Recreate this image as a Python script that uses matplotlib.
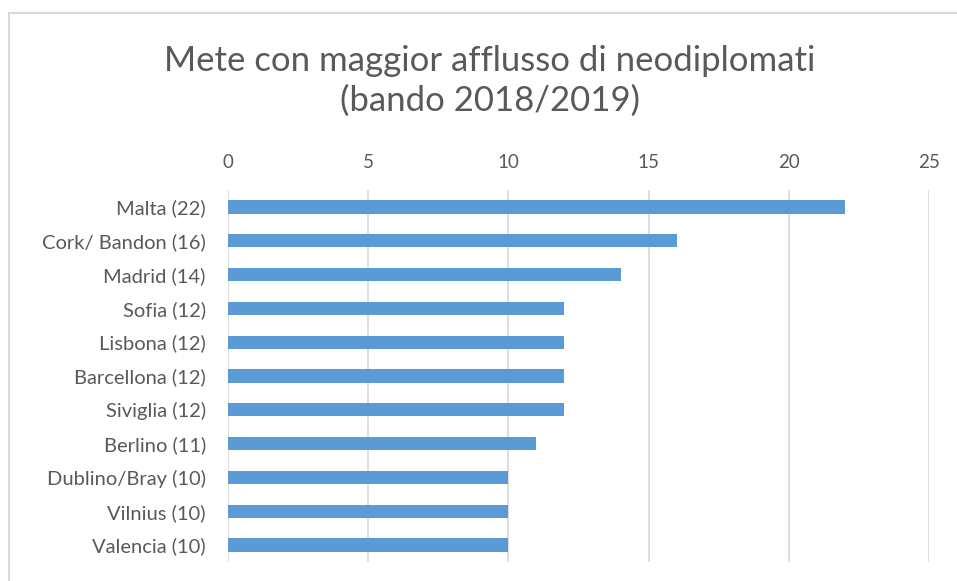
import matplotlib
matplotlib.use("Agg")
import matplotlib.pyplot as plt
from matplotlib.lines import Line2D

categories = ["Malta (22)", "Cork/ Bandon (16)", "Madrid (14)", "Sofia (12)", "Lisbona (12)",
              "Barcellona (12)", "Siviglia (12)", "Berlino (11)", "Dublino/Bray (10)",
              "Vilnius (10)", "Valencia (10)"]
values = [22, 16, 14, 12, 12, 12, 12, 11, 10, 10, 10]
xticks = [0, 5, 10, 15, 20, 25]
title = "Mete con maggior afflusso di neodiplomati\n(bando 2018/2019)"

plt.rcParams['font.family'] = ['Lato', 'DejaVu Sans']
W, H = 957, 581
fig = plt.figure(figsize=(W/100, H/100), dpi=100)
ax = fig.add_axes([228/W, 1-562/H, (929-228)/W, (562-190)/H])

y = list(range(len(categories)))
ax.barh(y, values, height=0.39, color="#5B9BD5", zorder=3)
ax.set_ylim(len(categories)-0.5, -0.5)
ax.set_xlim(0, 25)
ax.set_xticks(xticks)
ax.set_yticks(y)
ax.set_yticklabels(categories)
ax.xaxis.tick_top()
ax.tick_params(axis='x', length=0, pad=14, labelsize=13.5, labelcolor="#595959")
ax.tick_params(axis='y', length=0, pad=16, labelsize=14.5, labelcolor="#595959")
ax.grid(axis='x', color="#d9d9d9", linewidth=1.2, zorder=0)
for s in ax.spines.values():
    s.set_visible(False)

fig.text(490/W, 1-81/H, title, ha='center', va='center', fontsize=25,
         color="#595959", linespacing=1.3)

# figure border (top and left visible)
fig.add_artist(Line2D([9/W, 956/W], [1-13/H, 1-13/H], color="#d9d9d9", lw=1.5, transform=fig.transFigure))
fig.add_artist(Line2D([9/W, 9/W], [1-13/H, 0], color="#d9d9d9", lw=1.5, transform=fig.transFigure))

fig.savefig("out.png", dpi=100)
